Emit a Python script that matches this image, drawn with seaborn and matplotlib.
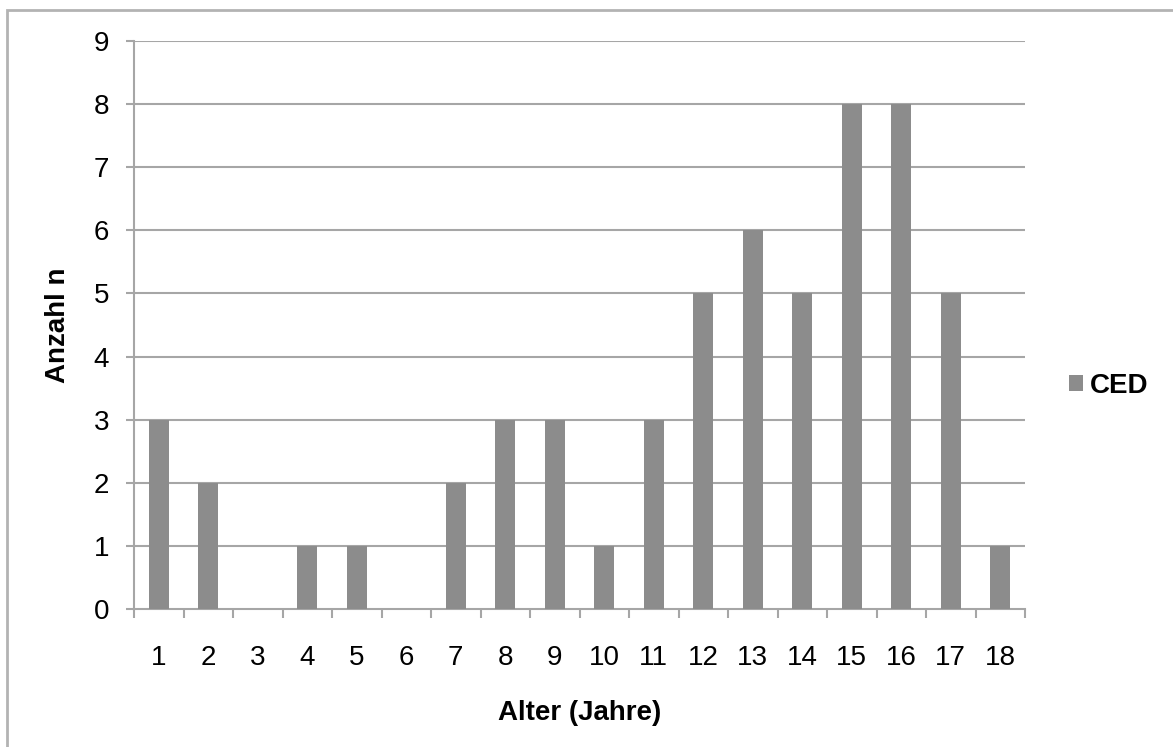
import matplotlib
matplotlib.use("Agg")
import matplotlib.pyplot as plt
import seaborn as sns
import pandas as pd
from matplotlib.patches import Rectangle

ages = [str(i) for i in range(1, 19)]
counts = [3, 2, 0, 1, 1, 0, 2, 3, 3, 1, 3, 5, 6, 5, 8, 8, 5, 1]
series_name = "CED"
y_ticks = list(range(0, 10))

df = pd.DataFrame({"Alter": ages, "Anzahl": counts})

sns.set_theme(style="white")
plt.rcParams["font.family"] = ["Liberation Sans", "DejaVu Sans"]
plt.rcParams["text.color"] = "black"

FS = 20

fig = plt.figure(figsize=(11.73, 7.47), dpi=100)
ax = fig.add_axes([134/1173, 1-609/747, (1025-134)/1173, (609-41)/747])

bar_color = "#8c8c8c"
grid_color = "#a6a6a6"
sns.barplot(data=df, x="Alter", y="Anzahl", color=bar_color, width=0.4,
            saturation=1, ax=ax, zorder=3, label=series_name, linewidth=0)

handles, labels = ax.get_legend_handles_labels()
if ax.get_legend() is not None:
    ax.get_legend().remove()

ax.set_ylim(0, 9)
ax.set_xlim(-0.5, len(ages) - 0.5)
ax.set_yticks(y_ticks)
ax.set_yticklabels([str(t) for t in y_ticks])
for y in y_ticks[1:]:
    ax.axhline(y, color=grid_color, lw=1.5, zorder=1)

for s in ["top", "right"]:
    ax.spines[s].set_visible(False)
for s in ["left", "bottom"]:
    ax.spines[s].set_color(grid_color)
    ax.spines[s].set_linewidth(1.5)

ax.tick_params(axis="y", which="major", length=6, width=1.5, color=grid_color,
               labelsize=FS, labelcolor="black", pad=12, left=True)
ax.tick_params(axis="x", which="major", length=0, labelsize=FS,
               labelcolor="black", pad=26)
ax.set_xticks([i - 0.5 for i in range(len(ages) + 1)], minor=True)
ax.tick_params(axis="x", which="minor", length=6.5, width=1.5, color=grid_color,
               bottom=True)

ax.set_xlabel("Alter (Jahre)", fontsize=FS, fontweight="bold", labelpad=21,
              color="black")
ax.set_ylabel("Anzahl n", fontsize=FS, fontweight="bold", labelpad=16,
              color="black")

leg = fig.legend(handles, labels, loc="center left",
                 bbox_to_anchor=(1069/1173, 1 - 386/747),
                 bbox_transform=fig.transFigure, frameon=False,
                 fontsize=FS, handlelength=0.5, handleheight=0.5,
                 handletextpad=0.25, borderpad=0, borderaxespad=0)
for t in leg.get_texts():
    t.set_fontweight("bold")
    t.set_color("black")

fig.patches.append(Rectangle((7/1173, -0.05), 1.2, 1 - 10/747 + 0.05,
                             transform=fig.transFigure, fill=False,
                             edgecolor="#b3b3b3", lw=2, zorder=0))

fig.savefig("out.png", dpi=100)
